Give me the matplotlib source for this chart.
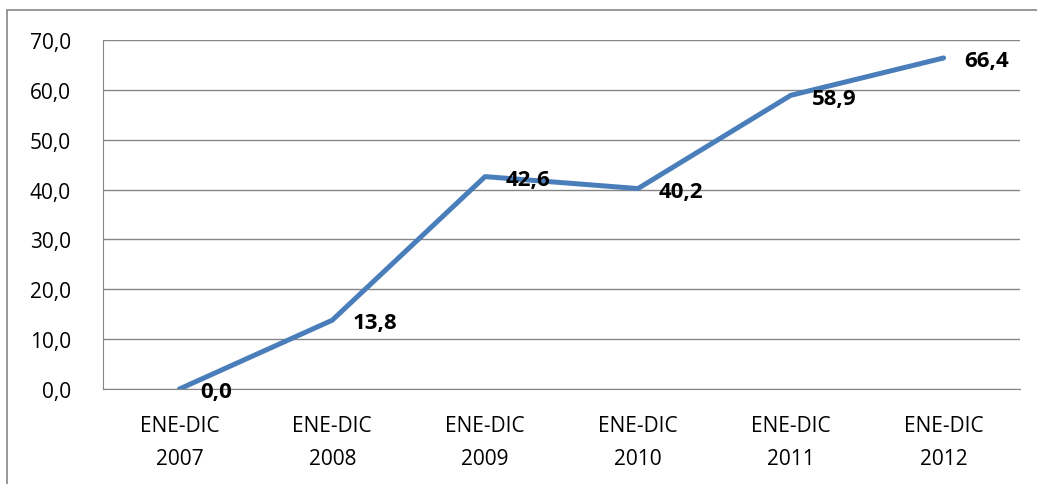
import matplotlib
matplotlib.use("Agg")
import matplotlib.pyplot as plt
from matplotlib.patches import Rectangle

categories = ["ENE-DIC\n2007", "ENE-DIC\n2008", "ENE-DIC\n2009", "ENE-DIC\n2010", "ENE-DIC\n2011", "ENE-DIC\n2012"]
values = [0.0, 13.8, 42.6, 40.2, 58.9, 66.4]
yticks = [0, 10, 20, 30, 40, 50, 60, 70]

plt.rcParams['font.family'] = ['Open Sans', 'DejaVu Sans']

W, H = 1037, 485
fig = plt.figure(figsize=(W / 100, H / 100), dpi=100)
fig.patches.append(Rectangle((7 / W, -0.2), 1.2, 1.2 - 11 / H, transform=fig.transFigure,
                             fill=False, edgecolor='#868686', linewidth=1.2))

ax = fig.add_axes([103 / W, 1 - 390 / H, (1020 - 103) / W, (390 - 41) / H])
x = list(range(len(values)))
ax.plot(x, values, color='#4A7EBB', linewidth=3.6, solid_capstyle='round', solid_joinstyle='round', zorder=3)
ax.set_xlim(-0.5, len(values) - 0.5)
ax.set_ylim(0, 70)
ax.set_yticks(yticks)
ax.set_yticklabels([f"{v:.1f}".replace('.', ',') for v in yticks], fontsize=15)
ax.set_xticks(x)
ax.set_xticklabels(categories, fontsize=15, linespacing=1.75)
ax.tick_params(axis='both', length=0, colors='black')
ax.tick_params(axis='y', pad=23)
ax.tick_params(axis='x', pad=19)
ax.grid(axis='y', color='#868686', linewidth=1.0)
ax.set_axisbelow(True)
for s in ['top', 'right']:
    ax.spines[s].set_visible(False)
ax.spines['left'].set_color('#868686')
ax.spines['bottom'].set_color('#868686')

for xi, v in zip(x, values):
    ax.annotate(f"{v:.1f}".replace('.', ','), (xi, v), xytext=(15, -2), textcoords='offset points',
                ha='left', va='center', fontsize=16, fontweight='bold', zorder=4)

fig.savefig("out.png", dpi=100)
